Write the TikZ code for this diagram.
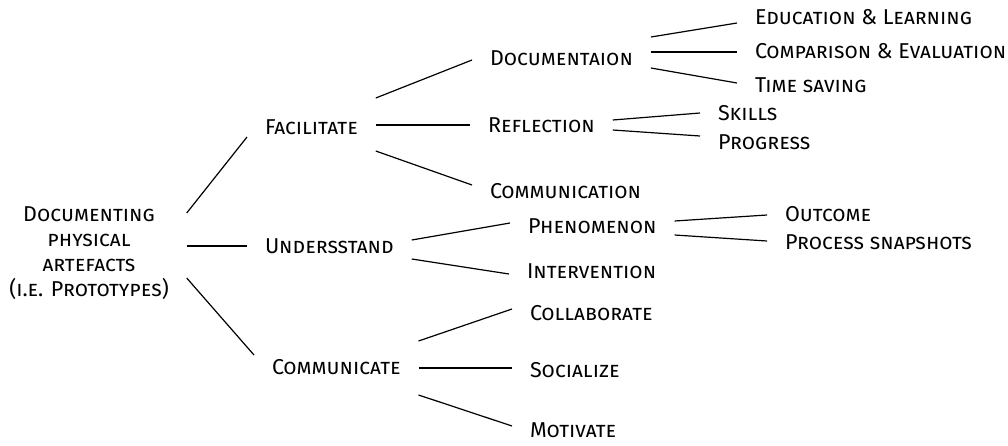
\documentclass[tikz,border=0pt]{standalone}
\usepackage{fontspec}
\setmainfont{Fira Sans}
\usetikzlibrary{positioning}

\begin{document}
\begin{tikzpicture}[x=1pt,y=-1pt,line width=1.2pt,
  topic/.style={font=\scshape\fontsize{21.5}{25}\selectfont,inner sep=0pt,outer xsep=18pt,anchor=west},
  root/.style={topic,anchor=center,align=center}]
  \useasboundingbox (0,0) rectangle (1008,445);
  \node[root] (root) at (89,253) {Documenting\\physical\\artefacts\\(i.e. Prototypes)};
  % first level
  \node[topic] (fac) at (247,127) {Facilitate};
  \node[topic] (und) at (247,246) {Undersstand};
  \node[topic] (com) at (254,367) {Communicate};
  % second level
  \node[topic] (doc) at (472,58) {Documentaion};
  \node[topic] (refl) at (470,125) {Reflection};
  \node[topic] (comm) at (472,191) {Communication};
  \node[topic] (phen) at (510,226) {Phenomenon};
  \node[topic] (interv) at (509,271) {Intervention};
  \node[topic] (collab) at (512,313) {Collaborate};
  \node[topic] (soc) at (512,370) {Socialize};
  \node[topic] (mot) at (512,430) {Motivate};
  % third level
  \node[topic] (edu) at (737,17) {Education \& Learning};
  \node[topic] (cmp) at (737,51) {Comparison \& Evaluation};
  \node[topic] (time) at (737,85) {Time saving};
  \node[topic] (skills) at (700,113) {Skills};
  \node[topic] (prog) at (700,142) {Progress};
  \node[topic] (out) at (767,214) {Outcome};
  \node[topic] (proc) at (767,242) {Process snapshots};

  \draw ([yshift=40pt]root.east) -- ([yshift=-10pt]fac.west);
  \draw ([yshift=7pt]root.east) -- (und.west);
  \draw ([yshift=-25pt]root.east) -- ([yshift=12pt]com.west);

  \draw ([yshift=29pt]fac.east) -- ([yshift=-2pt]doc.west);
  \draw ([yshift=2pt]fac.east) -- (refl.west);
  \draw ([yshift=-24pt]fac.east) -- ([yshift=6pt]comm.west);

  \draw ([yshift=21pt]doc.east) -- ([yshift=-6pt]edu.west);
  \draw ([yshift=6pt]doc.east) -- ([yshift=-1pt]cmp.west);
  \draw ([yshift=-10pt]doc.east) -- ([yshift=2pt]time.west);

  \draw ([yshift=5pt]refl.east) -- (skills.west);
  \draw ([yshift=-5pt]refl.east) -- ([yshift=6pt]prog.west);

  \draw ([yshift=6pt]und.east) -- ([yshift=3pt]phen.west);
  \draw ([yshift=-13pt]und.east) -- ([yshift=-3pt]interv.west);

  \draw ([yshift=5pt]phen.east) -- ([yshift=-1pt]out.west);
  \draw ([yshift=-9pt]phen.east) -- ([yshift=1pt]proc.west);

  \draw ([yshift=26pt]com.east) -- ([yshift=4pt]collab.west);
  \draw ([yshift=-1pt]com.east) -- ([yshift=2pt]soc.west);
  \draw ([yshift=-28pt]com.east) -- ([yshift=4pt]mot.west);
\end{tikzpicture}
\end{document}
